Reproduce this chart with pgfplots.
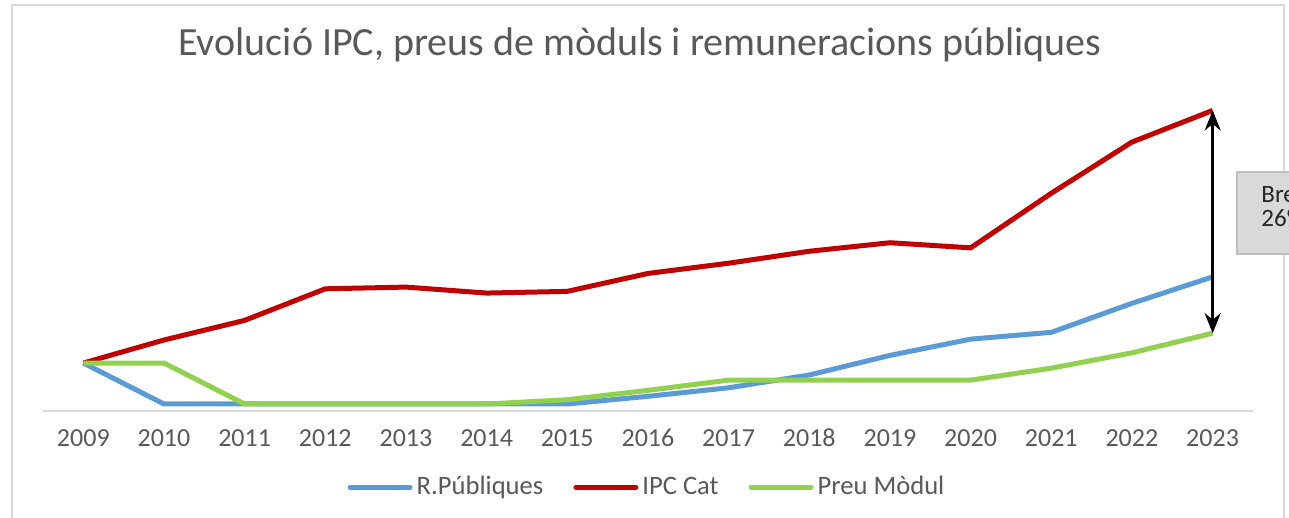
\documentclass[border=0pt]{standalone}
\usepackage{pgfplots}
\pgfplotsset{compat=1.18}
\usepackage{fontspec}
\setmainfont{Carlito}
\usetikzlibrary{arrows.meta}
\definecolor{cblue}{HTML}{5B9BD5}
\definecolor{cred}{HTML}{C00000}
\definecolor{cgreen}{HTML}{92D050}
\definecolor{txt}{HTML}{595959}
\definecolor{frame}{HTML}{D9D9D9}
\begin{document}
\begin{tikzpicture}
\path[use as bounding box] (0pt,0pt) rectangle (644.5pt,259pt);
\clip (0pt,0pt) rectangle (644.5pt,259pt);
\draw[frame, line width=1pt] (6pt,-10pt) -- (6pt,256.5pt) -- (642pt,256.5pt) -- (642pt,-10pt);
\node[txt, font=\fontsize{20}{24}\selectfont] at (320pt,236.5pt) {Evolució IPC, preus de mòduls i remuneracions públiques};
\begin{axis}[
  at={(21.5pt,53.5pt)}, anchor=south west,
  scale only axis, width=605pt, height=160.5pt,
  xmin=2008.5, xmax=2023.5, ymin=-5.62, ymax=32,
  axis x line=bottom, axis y line=none,
  x axis line style={frame, line width=1pt, -},
  xtick={2009,...,2023},
  xticklabels={2009,2010,2011,2012,2013,2014,2015,2016,2017,2018,2019,2020,2021,2022,2023},
  major tick length=0pt,
  xticklabel style={txt, font=\fontsize{13}{15}\selectfont, text height=8pt, text depth=3pt, yshift=-6pt},
  clip=false,
  legend style={draw=none, at={(0.5,-0.237)}, anchor=center, legend columns=3,
    font=\fontsize{13.3}{15}\selectfont, text=txt,
    /tikz/every even column/.append style={column sep=13pt}},
  legend image code/.code={\draw[#1, line width=2.5pt, line cap=round] (0pt,0pt) -- (30pt,0pt);},
  every axis plot/.append style={line width=2.5pt, no markers, line join=round},
]
\addplot[cblue] coordinates {(2009,0) (2010,-4.8) (2011,-4.8) (2012,-4.8) (2013,-4.8) (2014,-4.8) (2015,-4.8) (2016,-3.9) (2017,-2.9) (2018,-1.4) (2019,0.9) (2020,2.8) (2021,3.6) (2022,7.0) (2023,10.1)};
\addlegendentry{R.Públiques}
\addplot[cred] coordinates {(2009,0) (2010,2.7) (2011,5.0) (2012,8.7) (2013,8.9) (2014,8.2) (2015,8.4) (2016,10.5) (2017,11.7) (2018,13.1) (2019,14.1) (2020,13.5) (2021,19.9) (2022,25.9) (2023,29.6)};
\addlegendentry{IPC Cat}
\addplot[cgreen] coordinates {(2009,0) (2010,0) (2011,-4.8) (2012,-4.8) (2013,-4.8) (2014,-4.8) (2015,-4.3) (2016,-3.2) (2017,-2.0) (2018,-2.0) (2019,-2.0) (2020,-2.0) (2021,-0.6) (2022,1.2) (2023,3.5)};
\addlegendentry{Preu Mòdul}
\draw[black, line width=1.5pt, {Stealth[length=10pt,width=8pt]}-{Stealth[length=10pt,width=8pt]}] (axis cs:2023,29.6) -- (axis cs:2023,3.5);
\end{axis}
\draw[fill=frame, draw=black!25, line width=1pt] (618.5pt,173pt) rectangle (670pt,132pt);
\node[anchor=base west, text=black!85, font=\fontsize{12.5}{14}\selectfont, inner sep=0pt] at (630.5pt,157.5pt) {Bretxa};
\node[anchor=base west, text=black!85, font=\fontsize{12.5}{14}\selectfont, inner sep=0pt] at (630.5pt,145.5pt) {26\%};
\end{tikzpicture}
\end{document}
